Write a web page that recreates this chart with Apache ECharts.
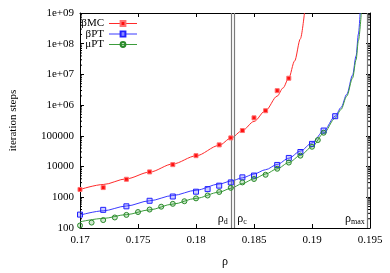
<!DOCTYPE html>
<html>
<head>
<meta charset="utf-8">
<script src="https://cdn.jsdelivr.net/npm/echarts@6/dist/echarts.min.js"></script>
<style>html,body{margin:0;padding:0;background:#fff}#c{width:390px;height:273px}</style>
</head>
<body>
<div id="c"></div>
<script>
// ---- data ----
const xTickLabels = ['0.17','0.175','0.18','0.185','0.19','0.195'];
const yTickLabels = ['100','1000','10000','100000','1e+06','1e+07','1e+08','1e+09'];

const seriesNames = ['βMC','βPT','μPT'];

const mcRho   = [0.170,0.172,0.174,0.176,0.178,0.180,0.182,0.183,0.184,0.185,0.186,0.187,0.188];
const mcSteps = [1795,2070,3860,6700,11560,22650,50900,85900,149000,386000,658000,2960000,7520000];

const bptRho   = [0.170,0.172,0.174,0.176,0.178,0.180,0.181,0.182,0.183,0.184,0.185,0.187,0.188,0.189,0.190,0.191,0.192];
const bptSteps = [273,390,508,770,1060,1520,1845,2390,3045,4455,5100,11300,19100,29800,54700,149000,436000];

const mptRho   = [0.170,0.171,0.172,0.173,0.174,0.175,0.176,0.177,0.178,0.179,0.180,0.181,0.182,0.183,0.184,0.185,0.186,0.187,0.188,0.189,0.190,0.1905,0.191];
const mptSteps = [121,150,181,220,267,331,399,494,612,743,922,1143,1490,2028,3050,3945,5410,8490,13500,22650,44150,72800,126500];

// fitted curves
const mcFitRho   = [0.170,0.172,0.174,0.176,0.178,0.180,0.182,0.183,0.184,0.185,0.186,0.187,0.1875,0.188,0.1885,0.189,0.18935];
const mcFitSteps = [1795,2605,4000,6610,12160,22340,49100,84100,149000,294600,671000,1970000,3610000,7670000,27300000,145000000,1000000000];

const bptFitRho   = [0.170,0.172,0.174,0.176,0.178,0.180,0.182,0.183,0.184,0.185,0.186,0.187,0.188,0.189,0.190,0.191,0.192,0.1925,0.193,0.1935,0.1938,0.194,0.19415];
const bptFitSteps = [263,363,520,771,1143,1694,2700,3350,4300,5730,7910,11730,18700,32000,58800,143900,436500,832000,2270000,9500000,40000000,207000000,1000000000];

const mptFitRho   = [0.170,0.172,0.174,0.176,0.178,0.180,0.182,0.183,0.184,0.185,0.186,0.187,0.188,0.189,0.190,0.191,0.192,0.1925,0.193,0.1935,0.1938,0.194,0.19425];
const mptFitSteps = [159,205,273,390,600,922,1468,1955,2800,4000,5730,8500,13500,23170,44150,120300,378600,721000,1970000,7670000,30000000,125000000,1000000000];

const rhoD = 0.1830, rhoC = 0.1833, rhoMax = 0.1948;

// ---- chart ----
const FONT = 'Liberation Serif';
const colors = ['#ff2a2a', '#3a3aff', '#3c9c3c'];
const zip = (a, b) => a.map((v, i) => [v, b[i]]);

const measure = (() => {
  const ctx = document.createElement('canvas').getContext('2d');
  ctx.font = '11px "' + FONT + '"';
  return t => ctx.measureText(t).width;
})();

const chart = echarts.init(document.getElementById('c'), null, {renderer: 'canvas'});

const axisCommon = {
  axisLine: {show: true, lineStyle: {color: '#000', width: 1}},
  axisTick: {show: true, inside: true, length: 4, lineStyle: {color: '#000'}},
  splitLine: {show: false}
};

function pointSeries(name, rho, steps, symbol, size, itemStyle) {
  return {
    name: name, type: 'line', data: zip(rho, steps),
    symbol: symbol, symbolSize: size, showSymbol: true,
    lineStyle: {width: 0, opacity: 0},
    itemStyle: itemStyle, z: 5, silent: true
  };
}
function fitSeries(name, rho, steps, idx) {
  return {
    name: name + ' fit', type: 'line', data: zip(rho, steps),
    smooth: 0.3, smoothMonotone: 'x', showSymbol: false, symbol: 'none',
    lineStyle: {color: colors[idx], width: 1}, z: 3, silent: true
  };
}

const ICON_LEFT = 109;
const option = {
  animation: false,
  backgroundColor: '#fff',
  grid: {left: 72, right: 20, top: 13, bottom: 35},
  legend: seriesNames.map((n, i) => ({
    data: [{name: n, lineStyle: {color: colors[i], width: 1, opacity: 1}}],
    left: ICON_LEFT - 5 - measure(n), top: 18 + i * 10.5, orient: 'vertical', align: 'right', padding: 0,
    itemWidth: 28, itemHeight: 6, itemGap: 0,
    textStyle: {fontFamily: FONT, fontSize: 11, color: '#000'}
  })),
  xAxis: [
    Object.assign({}, axisCommon, {
      type: 'value', min: 0.17, max: 0.195, interval: 0.005,
      axisLabel: {formatter: v => xTickLabels[Math.round((v - 0.17) / 0.005)], color: '#000', fontFamily: FONT, fontSize: 11, margin: 7},
      name: 'ρ', nameLocation: 'middle', nameGap: 28,
      nameTextStyle: {fontFamily: FONT, fontSize: 12, color: '#000'}
    }),
    Object.assign({}, axisCommon, {
      type: 'value', position: 'top', min: 0.17, max: 0.195, interval: 0.005,
      axisLabel: {show: false}
    })
  ],
  yAxis: [
    Object.assign({}, axisCommon, {
      type: 'log', logBase: 10, min: 100, max: 1e9,
      axisLabel: {formatter: v => yTickLabels[Math.round(Math.log10(v)) - 2], color: '#000', fontFamily: FONT, fontSize: 11, margin: 6},
      name: 'iteration steps', nameLocation: 'middle', nameGap: 61, nameRotate: 90,
      nameTextStyle: {fontFamily: FONT, fontSize: 11, color: '#000'}
    }),
    Object.assign({}, axisCommon, {
      type: 'log', logBase: 10, min: 100, max: 1e9, position: 'right',
      axisLabel: {show: false}
    })
  ],
  series: [
    fitSeries('βMC', mcFitRho, mcFitSteps, 0),
    fitSeries('βPT', bptFitRho, bptFitSteps, 1),
    fitSeries('μPT', mptFitRho, mptFitSteps, 2),
    pointSeries('βMC', mcRho, mcSteps, 'rect', 4, {color: '#ff1010', borderColor: '#ff7070', borderWidth: 1}),
    pointSeries('βPT', bptRho, bptSteps, 'rect', 5, {color: 'rgba(90,90,255,0.3)', borderColor: '#2020ff', borderWidth: 1}),
    pointSeries('μPT', mptRho, mptSteps, 'circle', 5, {color: 'rgba(60,160,60,0.25)', borderColor: '#2a8a2a', borderWidth: 1}),
    {
      name: 'marks', type: 'line', data: [], silent: true,
      markLine: {
        symbol: 'none', silent: true, animation: false, precision: 6,
        label: {show: false},
        lineStyle: {color: '#7a7a7a', width: 1.2, type: 'solid'},
        data: [
          [{coord: [rhoD, 100]}, {coord: [rhoD, 1e9]}],
          [{coord: [rhoC, 100]}, {coord: [rhoC, 1e9]}],
          [{coord: [rhoMax, 100]}, {coord: [rhoMax, 1e9]}]
        ]
      }
    }
  ]
};
chart.setOption(option);

// minor log ticks (2..9 per decade) and density labels, positioned through the axes
const g = [];
const xL = chart.convertToPixel({xAxisIndex: 0}, 0.17);
const xR = chart.convertToPixel({xAxisIndex: 0}, 0.195);
for (let d = 2; d < 9; d++) {
  for (let k = 2; k <= 9; k++) {
    const y = chart.convertToPixel({yAxisIndex: 0}, k * Math.pow(10, d));
    g.push({type: 'line', shape: {x1: xL, y1: y, x2: xL + 2, y2: y}, style: {stroke: '#000', lineWidth: 1}, silent: true});
    g.push({type: 'line', shape: {x1: xR, y1: y, x2: xR - 2, y2: y}, style: {stroke: '#000', lineWidth: 1}, silent: true});
  }
}
const yLab = chart.convertToPixel({yAxisIndex: 0}, 100) - 2;
const rich = {a: {fontFamily: FONT, fontSize: 12, fill: '#000'}, b: {fontFamily: FONT, fontSize: 8, fill: '#000', padding: [6, 0, 0, 0]}};
function rhoLabel(sub, rho, side) {
  const x = chart.convertToPixel({xAxisIndex: 0}, rho);
  return {
    type: 'text', silent: true,
    x: side === 'left' ? x - 3 : x + 3, y: yLab,
    style: {text: '{a|ρ}{b|' + sub + '}', rich: rich, align: side === 'left' ? 'right' : 'left', verticalAlign: 'bottom'}
  };
}
g.push(rhoLabel('d', rhoD, 'left'));
g.push(rhoLabel('c', rhoC, 'right'));
g.push(rhoLabel('max', rhoMax, 'left'));
chart.setOption({graphic: g});
</script>
</body>
</html>
